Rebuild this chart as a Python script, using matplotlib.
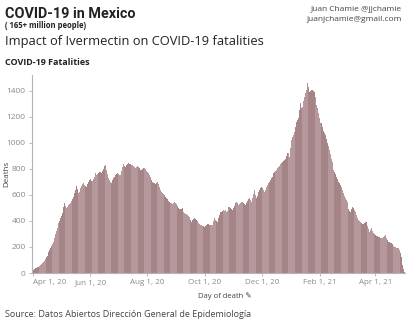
import numpy as np
import pandas as pd
import matplotlib
matplotlib.use("Agg")
from matplotlib import pyplot as plt
import matplotlib.dates as mdates

# daily COVID-19 deaths in Mexico by date of death, from 2020-04-01
start = "2020-04-01"
deaths = [
    22, 26, 31, 35, 40, 44, 48,
    55, 61, 66, 74, 87, 96, 108,
    120, 131, 145, 160, 177, 190, 210,
    226, 241, 268, 300, 322, 344, 385,
    402, 420, 441, 458, 472, 505, 536,
    512, 498, 505, 520, 528, 536, 551,
    570, 587, 612, 640, 669, 648, 631,
    618, 625, 650, 672, 681, 690, 676,
    668, 664, 681, 702, 715, 720, 711,
    706, 702, 720, 741, 767, 752, 760,
    772, 779, 774, 769, 781, 801, 822,
    830, 792, 760, 741, 728, 715, 702,
    690, 712, 728, 741, 752, 760, 767,
    760, 754, 754, 781, 818, 856, 840,
    822, 818, 828, 836, 843, 838, 835,
    832, 830, 822, 812, 805, 815, 822,
    830, 818, 805, 792, 790, 798, 805,
    805, 800, 788, 780, 767, 752, 735,
    718, 702, 690, 694, 690, 688, 690,
    702, 684, 660, 640, 625, 618, 610,
    598, 587, 578, 570, 562, 556, 548,
    540, 536, 528, 540, 548, 542, 530,
    512, 498, 495, 490, 492, 498, 488,
    472, 459, 455, 450, 446, 440, 430,
    410, 395, 405, 415, 420, 412, 405,
    398, 395, 388, 380, 369, 366, 362,
    358, 356, 360, 368, 377, 375, 372,
    370, 369, 372, 385, 402, 420, 410,
    400, 395, 420, 448, 472, 470, 478,
    485, 480, 485, 472, 480, 495, 505,
    510, 500, 492, 485, 500, 518, 535,
    548, 535, 523, 530, 538, 545, 548,
    548, 540, 530, 523, 535, 552, 568,
    575, 560, 548, 580, 610, 638, 600,
    575, 590, 605, 625, 640, 655, 664,
    650, 638, 625, 640, 660, 680, 690,
    700, 712, 728, 740, 752, 768, 779,
    785, 792, 805, 815, 825, 835, 843,
    850, 860, 868, 880, 900, 925, 950,
    920, 895, 960, 1023, 1045, 1065, 1087,
    1120, 1164, 1178, 1190, 1250, 1305, 1267,
    1280, 1292, 1320, 1356, 1385, 1408, 1459,
    1430, 1395, 1400, 1405, 1408, 1400, 1395,
    1350, 1292, 1270, 1250, 1228, 1190, 1151,
    1151, 1120, 1095, 1074, 1060, 1030, 1000,
    975, 946, 915, 880, 856, 830, 792,
    775, 760, 741, 722, 702, 690, 675,
    660, 640, 615, 590, 575, 560, 548,
    498, 490, 480, 472, 495, 510, 498,
    485, 470, 445, 420, 410, 402, 395,
    385, 378, 369, 375, 385, 392, 395,
    360, 335, 318, 330, 344, 320, 305,
    298, 292, 288, 284, 279, 276, 274,
    270, 267, 272, 280, 285, 292, 270,
    252, 241, 236, 232, 228, 222, 215,
    208, 202, 198, 195, 192, 190, 178,
    152, 120, 62, 30, 10,
]
yticks = [0, 200, 400, 600, 800, 1000, 1200, 1400]
xtick_dates = ["2020-04-01", "2020-06-01", "2020-08-01", "2020-10-01",
               "2020-12-01", "2021-02-01", "2021-04-01"]
xtick_labels = ["Apr 1, 20", "Jun 1, 20", "Aug 1, 20", "Oct 1, 20",
                "Dec 1, 20", "Feb 1, 21", "Apr 1, 21"]

days = pd.date_range(start, periods=len(deaths), freq="D")
week = np.arange(len(deaths)) // 7
colors = np.where(week % 2 == 0, "#a58488", "#b5989b")

plt.rcParams["font.family"] = ["Open Sans", "DejaVu Sans"]

W, H = 408, 322
fig = plt.figure(figsize=(W / 100, H / 100), dpi=100)

def px(x, y):
    return x / W, 1 - y / H

ax = fig.add_axes([32 / W, 1 - 273 / H, 373 / W, 198 / H])
ax.bar(days, deaths, width=1.0, color=colors, linewidth=0)

t0 = pd.Timestamp(start)
ax.set_xlim(t0 - pd.Timedelta(days=1.1), t0 + pd.Timedelta(days=396.8))
ax.set_ylim(0, 1523)

ax.set_yticks(yticks)
ax.set_yticklabels([str(v) for v in yticks], fontsize=6, color="#8a8a8a")
ax.set_xticks(pd.to_datetime(xtick_dates))
ax.set_xticklabels(xtick_labels, fontsize=5.8, color="#8a8a8a")
ax.get_xticklabels()[0].set_horizontalalignment("left")
ax.xaxis.set_minor_locator(mdates.MonthLocator())
ax.tick_params(axis="both", which="both", length=2.5, width=0.6, color="#b0b0b0", pad=2)
ax.tick_params(axis="x", which="minor", length=0)

for side in ["top", "right"]:
    ax.spines[side].set_visible(False)
for side in ["left", "bottom"]:
    ax.spines[side].set_color("#b5b5b5")
    ax.spines[side].set_linewidth(0.8)

ax.set_ylabel("Deaths", fontsize=5.8, color="#444444")
ax.yaxis.set_label_coords(-0.058, 0.5)

fig.text(*px(5, 18), "COVID-19 in Mexico", fontsize=10.4, fontweight="bold", family="Roboto",
         color="#222222", va="baseline")
fig.text(*px(5, 27.5), "( 165+ million people)", fontsize=5.5, fontweight="bold", color="#222222", va="baseline")
fig.text(*px(5, 44.5), "Impact of Ivermectin on COVID-19 fatalities", fontsize=9.3, color="#222222", va="baseline")
fig.text(*px(5, 65), "COVID-19 Fatalities", fontsize=6.5, fontweight="bold", color="#222222", va="baseline")
fig.text(*px(402, 11), "Juan Chamie @jjchamie", fontsize=6, color="#444444", ha="right", va="baseline")
fig.text(*px(402, 21), "juanjchamie@gmail.com", fontsize=6, color="#444444", ha="right", va="baseline")
fig.text(*px(198, 298), "Day of death \u270e", fontsize=5.5, color="#444444", va="baseline")
fig.text(*px(5, 317), "Source: Datos Abiertos Direcci\u00f3n General de Epidemiolog\u00eda",
         fontsize=6.5, color="#444444", va="baseline")

fig.savefig("out.png", dpi=100)
